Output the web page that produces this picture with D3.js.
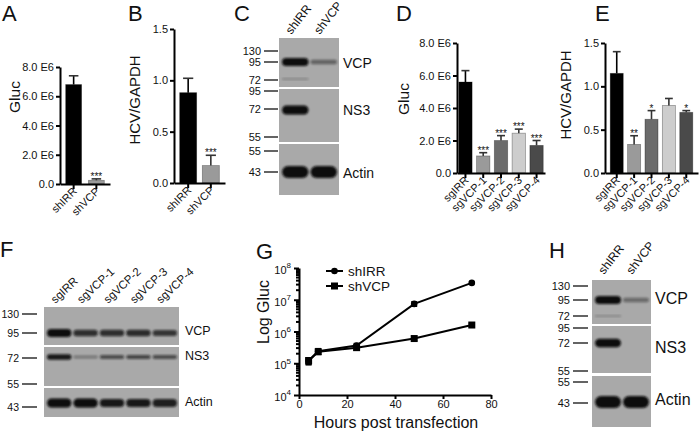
<!DOCTYPE html>
<html lang="en">
<head>
<meta charset="utf-8">
<title>VCP figure</title>
<script src="https://cdn.jsdelivr.net/npm/d3@7/dist/d3.min.js"></script>
<style>
  body { margin: 0; background: #fff; }
  text { font-family: "Liberation Sans", Arial, Helvetica, sans-serif; fill: #111; }
  .axis path, .axis line { stroke: #000; stroke-width: 2px; }
  .axis text { font-size: 11px; }
</style>
</head>
<body>
<div id="chart"></div>
<script>
var width = 700, height = 431;

// ---- data ----
// A / B : shRNA knockdown
var shCats = ["shIRR", "shVCP"];
var glucA = [6.8e6, 0.25e6];
var glucAErr = [0.6e6, 0.1e6];
var starsA = ["", "***"];
var hcvB = [0.88, 0.17];
var hcvBErr = [0.14, 0.10];
var starsB = ["", "***"];
var shColors = ["#000", "#9a9a9a"];

// D / E : sgRNA knockout
var sgCats = ["sgIRR", "sgVCP-1", "sgVCP-2", "sgVCP-3", "sgVCP-4"];
var glucD = [5.6e6, 1.05e6, 2.0e6, 2.45e6, 1.7e6];
var glucDErr = [0.7e6, 0.2e6, 0.3e6, 0.25e6, 0.3e6];
var starsD = ["", "***", "***", "***", "***"];
var hcvE = [1.15, 0.33, 0.62, 0.78, 0.70];
var hcvEErr = [0.25, 0.10, 0.10, 0.08, 0.02];
var starsE = ["", "**", "*", "", "*"];
var sgColors = ["#000", "#9a9a9a", "#6b6b6b", "#cdcdcd", "#4a4a4a"];

var glucTicks = [0, 2e6, 4e6, 6e6, 8e6];
var hcvTicks = [0, 0.5, 1.0, 1.5];

// G : time course
var hours = [4, 8, 24, 48, 72];
var gShIRR = [1.2e5, 2.4e5, 3.6e5, 7.4e6, 3.4e7];
var gShIRRErr = [0.3e5, 0.5e5, 0.6e5, 1.2e6, 2e6];
var gShVCP = [1.2e5, 2.3e5, 3.1e5, 6.0e5, 1.6e6];
var gShVCPErr = [0.3e5, 0.4e5, 0.5e5, 0.8e5, 0.2e6];
var gXTicks = [0, 20, 40, 60, 80];
var gYTicks = [1e4, 1e5, 1e6, 1e7, 1e8];

// blots: band intensities per lane (0..1)
var blotNames = ["VCP", "NS3", "Actin"];
var mwC = [["130", "95", "72"], ["95", "72", "55"], ["55", "43"]];
var C_VCP = [1.0, 0.35], C_VCP72 = [0.2, 0], C_NS3 = [1.0, 0], C_Actin = [1.0, 1.0];
var mwF = [["130", "95"], ["72", "55"], ["43"]];
var F_VCP = [1.0, 0.7, 0.7, 0.72, 0.65];
var F_NS3 = [0.85, 0.22, 0.5, 0.55, 0.5];
var F_Actin = [1.0, 1.0, 0.85, 0.85, 0.8];
var H_VCP = [1.0, 0.3], H_VCP72 = [0.18, 0], H_NS3 = [0.95, 0], H_Actin = [1.0, 1.0];

var svg = d3.select("#chart").append("svg")
  .attr("width", width).attr("height", height);

var defs = svg.append("defs");
defs.append("filter").attr("id", "blur")
  .attr("x", "-20%").attr("y", "-80%").attr("width", "140%").attr("height", "260%")
  .append("feGaussianBlur").attr("stdDeviation", 1.1);

function letter(t, x, y) {
  svg.append("text").attr("x", x).attr("y", y).attr("font-size", 22).text(t);
}

function yTitle(t, x, y, fs) {
  svg.append("text")
    .attr("transform", "translate(" + x + "," + y + ") rotate(-90)")
    .attr("text-anchor", "middle").attr("font-size", fs).text(t);
}

// bar panel, Prism style
function barPanel(o) {
  var y = d3.scaleLinear().domain([0, o.max]).range([o.yb, o.yt]);
  var x = d3.scaleBand().domain(o.cats).range([o.xa, o.xe])
    .paddingInner(o.pi).paddingOuter(o.po);
  var g = svg.append("g");
  var bw = x.bandwidth();

  g.selectAll("rect").data(o.vals).enter().append("rect")
    .attr("x", function (d, i) { return x(o.cats[i]); })
    .attr("y", function (d) { return y(d); })
    .attr("width", bw)
    .attr("height", function (d) { return o.yb - y(d); })
    .attr("fill", function (d, i) { return o.colors[i]; })
    .attr("stroke", "rgba(0,0,0,0.35)").attr("stroke-width", 0.8);

  // upper error bars
  o.vals.forEach(function (v, i) {
    var cx = x(o.cats[i]) + bw / 2, top = y(v + o.errs[i]);
    g.append("line").attr("x1", cx).attr("x2", cx).attr("y1", y(v)).attr("y2", top)
      .attr("stroke", o.colors[i] === "#000" ? "#000" : "#333").attr("stroke-width", 1.6);
    g.append("line").attr("x1", cx - bw * 0.3).attr("x2", cx + bw * 0.3).attr("y1", top).attr("y2", top)
      .attr("stroke", "#333").attr("stroke-width", 1.6);
    if (o.stars[i]) {
      g.append("text").attr("x", cx).attr("y", top + 1).attr("text-anchor", "middle")
        .attr("font-size", 10).text(o.stars[i]);
    }
  });

  g.append("g").attr("class", "axis")
    .attr("transform", "translate(" + o.xa + ",0)")
    .call(d3.axisLeft(y).tickValues(o.ticks).tickFormat(o.fmt).tickSize(4).tickPadding(2).tickSizeOuter(0))
    .selectAll("text").attr("font-size", o.tfs);

  var xa = g.append("g").attr("class", "axis")
    .attr("transform", "translate(0," + o.yb + ")")
    .call(d3.axisBottom(x).tickSize(5).tickSizeOuter(0).tickFormat(""));
  xa.selectAll(".tick").append("text")
    .attr("transform", "translate(4,8) rotate(-45)")
    .attr("text-anchor", "end").attr("font-size", o.xfs)
    .text(function (d) { return d; });
  g.selectAll(".axis text").attr("fill", "#111").attr("font-family", null);
}

function e6(d) { return d === 0 ? "0.0" : (d / 1e6).toFixed(1) + " E6"; }
function f1(d) { return d.toFixed(1); }

// ---- A ----
letter("A", 2, 21);
yTitle("Gluc", 20, 97, 15.5);
barPanel({ cats: shCats, vals: glucA, errs: glucAErr, stars: starsA, colors: shColors,
  max: 8e6, ticks: glucTicks, fmt: e6, xa: 60, xe: 110, yb: 184, yt: 67,
  pi: 0.3, po: 0.25, tfs: 10, xfs: 12 });

// ---- B ----
letter("B", 128, 21);
yTitle("HCV/GAPDH", 140, 100, 15);
barPanel({ cats: shCats, vals: hcvB, errs: hcvBErr, stars: starsB, colors: shColors,
  max: 1.5, ticks: hcvTicks, fmt: f1, xa: 174, xe: 225, yb: 183, yt: 29,
  pi: 0.25, po: 0.25, tfs: 11.5, xfs: 12 });

// ---- D ----
letter("D", 396, 21);
yTitle("Gluc", 409, 99, 15.5);
barPanel({ cats: sgCats, vals: glucD, errs: glucDErr, stars: starsD, colors: sgColors,
  max: 8e6, ticks: glucTicks, fmt: e6, xa: 457, xe: 545, yb: 173, yt: 43,
  pi: 0.25, po: 0.1, tfs: 10, xfs: 10.5 });

// ---- E ----
letter("E", 595, 21);
yTitle("HCV/GAPDH", 571, 95, 15);
barPanel({ cats: sgCats, vals: hcvE, errs: hcvEErr, stars: starsE, colors: sgColors,
  max: 1.5, ticks: hcvTicks, fmt: f1, xa: 605, xe: 698, yb: 173, yt: 43,
  pi: 0.25, po: 0.3, tfs: 11, xfs: 10.5 });

// ---- blots ----
function blot(o) {
  var g = svg.append("g");
  var lx = d3.scaleBand().domain(o.lanes).range([o.x0 + 2, o.x1 - 1]).padding(0);
  var lw = lx.bandwidth();

  o.strips.forEach(function (s) {
    g.append("rect").attr("x", o.x0).attr("y", s.y0).attr("width", o.x1 - o.x0)
      .attr("height", s.y1 - s.y0).attr("fill", "#a9a9a9");
    s.bands.forEach(function (b) {
      b.vals.forEach(function (v, i) {
        if (v <= 0) return;
        var h = b.h * (0.35 + 0.65 * v);
        g.append("rect")
          .attr("x", lx(o.lanes[i]) + 1).attr("width", lw - 2)
          .attr("y", b.y - h / 2).attr("height", h)
          .attr("rx", Math.min(h / 2, lw / 3)).attr("ry", h / 2)
          .attr("fill", "#0a0a0a").attr("opacity", Math.min(1, 0.12 + 0.95 * v))
          .attr("filter", "url(#blur)");
      });
    });
    s.marks.forEach(function (m) {
      g.append("line").attr("x1", o.tx0).attr("x2", o.tx1).attr("y1", m[1]).attr("y2", m[1])
        .attr("stroke", "#222").attr("stroke-width", 1.4);
      g.append("text").attr("x", o.tx0 - 3).attr("y", m[1]).attr("dy", "0.35em")
        .attr("text-anchor", "end").attr("font-size", o.mfs).text(m[0]);
    });
    g.append("text").attr("x", o.nameX).attr("y", s.nameY).attr("dy", "0.35em")
      .attr("font-size", o.nfs).text(s.name);
  });

  o.lanes.forEach(function (l) {
    g.append("text")
      .attr("transform", "translate(" + (lx(l) + lw / 2 - 4) + "," + o.ly + ") rotate(" + o.la + ")")
      .attr("font-size", o.lfs).text(l);
  });
}

// C
letter("C", 234, 21);
blot({ lanes: shCats, x0: 279, x1: 339, tx0: 264, tx1: 278, mfs: 11, nfs: 14, nameX: 343,
  lfs: 12, ly: 35, la: -52,
  strips: [
    { y0: 38, y1: 87, name: blotNames[0], nameY: 63,
      bands: [{ y: 62, h: 8, vals: C_VCP }, { y: 79, h: 3, vals: C_VCP72 }],
      marks: [[mwC[0][0], 51], [mwC[0][1], 62], [mwC[0][2], 80]] },
    { y0: 89, y1: 142, name: blotNames[1], nameY: 110,
      bands: [{ y: 110, h: 9, vals: C_NS3 }],
      marks: [[mwC[1][0], 91], [mwC[1][1], 109], [mwC[1][2], 137]] },
    { y0: 144, y1: 195, name: blotNames[2], nameY: 173,
      bands: [{ y: 172, h: 12, vals: C_Actin }],
      marks: [[mwC[2][0], 151], [mwC[2][1], 172]] }
  ] });

// F
letter("F", 0, 257);
blot({ lanes: sgCats, x0: 44, x1: 179, tx0: 22, tx1: 37, mfs: 10.5, nfs: 12.5, nameX: 185,
  lfs: 11.5, ly: 304, la: -43,
  strips: [
    { y0: 307, y1: 345, name: blotNames[0], nameY: 331,
      bands: [{ y: 333, h: 8, vals: F_VCP }],
      marks: [[mwF[0][0], 314], [mwF[0][1], 333]] },
    { y0: 347, y1: 386, name: blotNames[1], nameY: 356,
      bands: [{ y: 357, h: 6, vals: F_NS3 }],
      marks: [[mwF[1][0], 358], [mwF[1][1], 384]] },
    { y0: 388, y1: 417, name: blotNames[2], nameY: 402,
      bands: [{ y: 403, h: 9, vals: F_Actin }],
      marks: [[mwF[2][0], 407]] }
  ] });

// H
letter("H", 549, 258);
blot({ lanes: shCats, x0: 592, x1: 651, tx0: 573, tx1: 588, mfs: 11, nfs: 16, nameX: 655,
  lfs: 12, ly: 275, la: -52,
  strips: [
    { y0: 280, y1: 324, name: blotNames[0], nameY: 298,
      bands: [{ y: 300, h: 8, vals: H_VCP }, { y: 316, h: 3, vals: H_VCP72 }],
      marks: [[mwC[0][0], 286], [mwC[0][1], 300], [mwC[0][2], 316]] },
    { y0: 326, y1: 373, name: blotNames[1], nameY: 347,
      bands: [{ y: 343, h: 9, vals: H_NS3 }],
      marks: [[mwC[1][0], 328], [mwC[1][1], 343], [mwC[1][2], 371]] },
    { y0: 376, y1: 427, name: blotNames[2], nameY: 399,
      bands: [{ y: 402, h: 12, vals: H_Actin }],
      marks: [[mwC[2][0], 382], [mwC[2][1], 403]] }
  ] });

// ---- G ----
letter("G", 256, 259);
var gx = d3.scaleLinear().domain([0, 80]).range([299, 491]);
var gy = d3.scaleLog().domain([1e4, 1e8]).range([395, 268]);
var gg = svg.append("g");

gg.append("g").attr("class", "axis").attr("transform", "translate(0,395)")
  .call(d3.axisBottom(gx).tickValues(gXTicks).tickSize(4).tickPadding(1).tickSizeOuter(0))
  .selectAll("text").attr("font-size", 11).attr("fill", "#111");

var gya = gg.append("g").attr("class", "axis").attr("transform", "translate(299,0)")
  .call(d3.axisLeft(gy).tickValues(gYTicks).tickSize(5).tickSizeOuter(0).tickFormat(""));
gya.selectAll(".tick text").each(function (d) {
  var t = d3.select(this).attr("fill", "#111").attr("font-size", 11.5).attr("dy", "0.5em");
  t.append("tspan").text("10");
  t.append("tspan").attr("dy", "-0.7em").attr("font-size", 8).text(Math.round(Math.log10(d)));
});
// minor log ticks
d3.range(4, 8).forEach(function (e) {
  d3.range(2, 10).forEach(function (k) {
    var yy = gy(k * Math.pow(10, e));
    gya.append("line").attr("x1", -3).attr("x2", 0).attr("y1", yy).attr("y2", yy)
      .attr("stroke", "#000").attr("stroke-width", 1.2);
  });
});

yTitle("Log Gluc", 269, 312, 16);
svg.append("text").attr("x", 396).attr("y", 428).attr("text-anchor", "middle")
  .attr("font-size", 16).text("Hours post transfection");

var line = d3.line().x(function (d) { return gx(d[0]); }).y(function (d) { return gy(d[1]); });
var series = [
  { name: "shIRR", vals: gShIRR, errs: gShIRRErr, shape: "circle" },
  { name: "shVCP", vals: gShVCP, errs: gShVCPErr, shape: "square" }
];

function marker(g, shape, cx, cy) {
  if (shape === "circle") {
    g.append("circle").attr("cx", cx).attr("cy", cy).attr("r", 3.3).attr("fill", "#000");
  } else {
    g.append("rect").attr("x", cx - 3.5).attr("y", cy - 3.5).attr("width", 7).attr("height", 7).attr("fill", "#000");
  }
}

series.forEach(function (s, si) {
  var pts = hours.map(function (h, i) { return [h, s.vals[i]]; });
  gg.append("path").datum(pts).attr("d", line)
    .attr("fill", "none").attr("stroke", "#000").attr("stroke-width", 2);
  pts.forEach(function (p, i) {
    var cx = gx(p[0]);
    var lo = gy(p[1] - s.errs[i]), hi = gy(p[1] + s.errs[i]);
    gg.append("line").attr("x1", cx).attr("x2", cx).attr("y1", lo).attr("y2", hi)
      .attr("stroke", "#000").attr("stroke-width", 1.3);
    [lo, hi].forEach(function (yy) {
      gg.append("line").attr("x1", cx - 3).attr("x2", cx + 3).attr("y1", yy).attr("y2", yy)
        .attr("stroke", "#000").attr("stroke-width", 1.3);
    });
    marker(gg, s.shape, cx, gy(p[1]));
  });
  // legend
  var ly = 271 + si * 15;
  gg.append("line").attr("x1", 326).attr("x2", 343).attr("y1", ly).attr("y2", ly)
    .attr("stroke", "#000").attr("stroke-width", 2);
  marker(gg, s.shape, 334.5, ly);
  gg.append("text").attr("x", 348).attr("y", ly).attr("dy", "0.35em")
    .attr("font-size", 13.5).text(s.name);
});
</script>
</body>
</html>
